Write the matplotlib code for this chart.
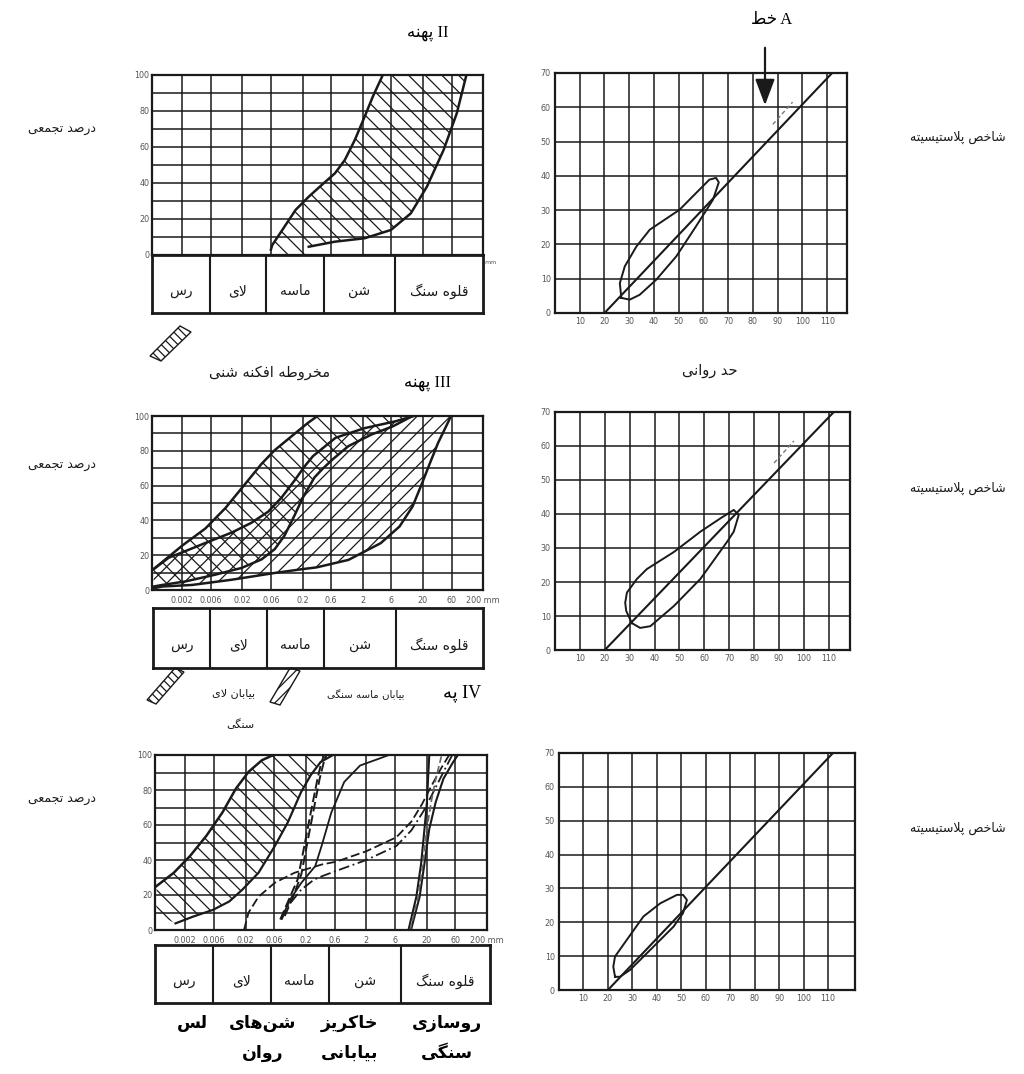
import matplotlib
matplotlib.use('Agg')
import matplotlib.pyplot as plt
from matplotlib.patches import Polygon
from matplotlib.ticker import NullLocator

W, H = 1024, 1074

# ---- grading charts -------------------------------------------------------
size_ticks = [0.002, 0.006, 0.02, 0.06, 0.2, 0.6, 2, 6, 20, 60, 200]
size_labels = ['0.002', '0.006', '0.02', '0.06', '0.2', '0.6', '2', '6', '20', '60', '200 mm']
size_min = 0.00063
pct_grid = [0, 10, 20, 30, 40, 50, 60, 70, 80, 90, 100]
pct_labels = ['0', '', '20', '', '40', '', '60', '', '80', '', '100']

soil_classes = ['رس', 'لای', 'ماسه', 'شن', 'قلوه سنگ']
class_edges = [0, 0.174, 0.345, 0.519, 0.735, 1.0]

# zone II: alluvial fan envelope
z2_fine_d = [0.0596, 0.063, 0.0923, 0.153, 0.254, 0.417, 0.692, 1.01, 1.48, 2.16, 2.95, 4.32]
z2_fine_p = [3, 5.6, 13.9, 25, 32.4, 38.9, 45.4, 52.8, 63.9, 76.9, 88, 100]
z2_coarse_d = [0.254, 0.692, 2.16, 5.89, 12.6, 23.4, 44.2, 73.3, 106]
z2_coarse_p = [4.6, 7.4, 9.3, 13.9, 23.1, 38, 58.3, 78.7, 100]

# zone III: stony silt desert (upper / lower bound)
silt_top_d = [0.00067, 0.002, 0.00484, 0.0104, 0.0221, 0.0417, 0.0692, 0.130, 0.245, 0.355]
silt_top_p = [12, 25.5, 35.3, 47, 60.8, 72.5, 80.4, 88.2, 96, 100]
silt_low_d = [0.00067, 0.00093, 0.00224, 0.00708, 0.0195, 0.0417, 0.0692, 0.101, 0.148,
              0.202, 0.316, 0.43, 0.63, 1.16, 2.82, 6.3, 13.5]
silt_low_p = [2, 2.9, 4.9, 8.8, 12.7, 17.6, 23.5, 31.4, 43, 53, 64.7, 69.6, 75, 82.7, 89.4, 94, 100]
# zone III: stony sand desert (upper / lower bound)
sand_top_d = [0.00067, 0.0012, 0.002, 0.00484, 0.0133, 0.0282, 0.0537, 0.089, 0.148, 0.216,
              0.3, 0.71, 2.14, 7.1, 14.1]
sand_top_p = [12, 18.6, 21.6, 27, 33, 38.6, 45, 53, 63, 71, 77, 87.5, 93, 97, 100]
sand_low_d = [0.00067, 0.00093, 0.00292, 0.0133, 0.0692, 0.2, 0.343, 1.16, 3.98, 8.2, 13.5,
              19.5, 26.3, 35.9, 51.9, 58.9]
sand_low_p = [1, 2, 2.9, 5.9, 9.8, 12, 13, 17.3, 26.9, 36.5, 48, 61.5, 73, 84.6, 96, 100]

# zone IV: loess band
loess_top_d = [0.00067, 0.00129, 0.0024, 0.00447, 0.0083, 0.0138, 0.0224, 0.0372, 0.0575]
loess_top_p = [25, 32.7, 42.3, 53.8, 67.3, 80.8, 90.4, 97, 100]
loess_low_d = [0.00138, 0.00272, 0.00575, 0.0107, 0.0176, 0.0327, 0.061, 0.1, 0.166, 0.24, 0.35, 0.56]
loess_low_p = [3.8, 7.7, 11.5, 16.3, 23, 32.7, 48, 61.5, 78.8, 88.5, 96, 100]
# zone IV: dune sands
dune_a_d = [0.075, 0.106, 0.146, 0.188, 0.24, 0.309, 0.355, 0.398]
dune_a_p = [6, 18, 29, 48, 67, 86, 95, 100]
dune_b_d = [0.089, 0.126, 0.168, 0.211, 0.266, 0.335, 0.389, 0.437]
dune_b_p = [8, 20, 32, 50, 68, 86, 95, 100]
# zone IV: desert fill
fill_solid_d = [0.079, 0.112, 0.168, 0.285, 0.363, 0.525, 0.861, 1.58, 3.31, 4.73]
fill_solid_p = [7, 18, 27, 36.5, 48, 67, 84.6, 94, 98, 100]
fill_dash1_d = [0.0188, 0.0224, 0.0327, 0.061, 0.129, 0.372, 0.63, 2.0, 6.3, 11.2, 16.8, 23.7, 35.5, 47.3]
fill_dash1_p = [0, 10, 19, 27, 32.7, 37.5, 39, 45, 53, 62, 72, 82, 93, 100]
fill_dash2_d = [0.0785, 0.1, 0.166, 0.272, 0.372, 0.794, 2.0, 6.3, 11.2, 17.8, 25.1, 37.6, 53.1]
fill_dash2_p = [5.8, 13.5, 23, 28.8, 30.8, 35, 40, 48, 57, 68, 78, 90, 100]
# zone IV: stony pavement
pave_a_d = [10.0, 13.5, 16.2, 18.4, 20.2, 21.1, 22.1]
pave_a_p = [0, 19, 38, 57.7, 73, 86.5, 100]
pave_b_d = [11.0, 15.3, 18.4, 22.1, 28.2, 38, 55, 66]
pave_b_p = [0, 19, 38, 57.7, 73, 86.5, 96, 100]
pave_c_d = [10.6, 14.5, 17.4, 20.0, 23.7, 28.2, 35.5]
pave_c_p = [0, 19, 38, 57, 73, 86, 100]

# ---- plasticity charts ----------------------------------------------------
ll_ticks = [10, 20, 30, 40, 50, 60, 70, 80, 90, 100, 110]
pi_ticks = [0, 10, 20, 30, 40, 50, 60, 70]
a_line_ll = [20, 112]
a_line_pi = [0, 70]
u_dash_ll = [88, 96]
u_dash_pi = [55, 61.5]

z2_ll = [26.8, 26.2, 28.2, 32.9, 38.3, 50.3, 58.4, 62.4, 65.1, 66.2, 63.8, 57.0, 49.0, 40.9, 34.2, 30.2, 26.8]
z2_pi = [4.4, 8.7, 13.6, 19.4, 24.3, 30.1, 36.0, 38.9, 39.4, 38.1, 33.0, 25.3, 16.5, 9.7, 5.3, 3.9, 4.4]
z3_ll = [30.9, 28.6, 28.2, 28.9, 32.9, 36.9, 47.7, 58.4, 66.4, 71.8, 73.8, 71.8, 69.1, 58.4, 47.7, 38.3, 34.2, 30.9]
z3_pi = [7.9, 11.5, 13.9, 16.9, 20.9, 23.8, 28.8, 34.8, 38.7, 41.2, 39.7, 34.8, 31.8, 20.9, 12.9, 7.0, 6.5, 7.9]
z4_ll = [22.9, 22.2, 22.9, 27.7, 34.5, 41.4, 48.2, 50.7, 52.3, 50.7, 46.8, 40.0, 33.2, 29.0, 24.9, 22.9]
z4_pi = [3.9, 6.9, 9.9, 14.8, 21.7, 25.6, 28.1, 28.1, 26.6, 22.7, 18.7, 13.8, 8.9, 5.9, 3.9, 3.9]

# ---- persian text shaping (no shaping engine in matplotlib) ---------------
FORMS = {
    'ا': ('\uFE8D', '\uFE8E', None, None),
    'ب': ('\uFE8F', '\uFE90', '\uFE91', '\uFE92'),
    'پ': ('\uFB56', '\uFB57', '\uFB58', '\uFB59'),
    'ت': ('\uFE95', '\uFE96', '\uFE97', '\uFE98'),
    'ج': ('\uFE9D', '\uFE9E', '\uFE9F', '\uFEA0'),
    'ح': ('\uFEA1', '\uFEA2', '\uFEA3', '\uFEA4'),
    'خ': ('\uFEA5', '\uFEA6', '\uFEA7', '\uFEA8'),
    'د': ('\uFEA9', '\uFEAA', None, None),
    'ر': ('\uFEAD', '\uFEAE', None, None),
    'ز': ('\uFEAF', '\uFEB0', None, None),
    'س': ('\uFEB1', '\uFEB2', '\uFEB3', '\uFEB4'),
    'ش': ('\uFEB5', '\uFEB6', '\uFEB7', '\uFEB8'),
    'ص': ('\uFEB9', '\uFEBA', '\uFEBB', '\uFEBC'),
    'ط': ('\uFEC1', '\uFEC2', '\uFEC3', '\uFEC4'),
    'ع': ('\uFEC9', '\uFECA', '\uFECB', '\uFECC'),
    'ف': ('\uFED1', '\uFED2', '\uFED3', '\uFED4'),
    'ق': ('\uFED5', '\uFED6', '\uFED7', '\uFED8'),
    'ک': ('\uFB8E', '\uFB8F', '\uFB90', '\uFB91'),
    'گ': ('\uFB92', '\uFB93', '\uFB94', '\uFB95'),
    'ل': ('\uFEDD', '\uFEDE', '\uFEDF', '\uFEE0'),
    'م': ('\uFEE1', '\uFEE2', '\uFEE3', '\uFEE4'),
    'ن': ('\uFEE5', '\uFEE6', '\uFEE7', '\uFEE8'),
    'ه': ('\uFEE9', '\uFEEA', '\uFEEB', '\uFEEC'),
    'و': ('\uFEED', '\uFEEE', None, None),
    'ی': ('\uFBFC', '\uFBFD', '\uFBFE', '\uFBFF'),
}


def fa(text):
    out = []
    prev_joins = False
    i = 0
    n = len(text)
    while i < n:
        c = text[i]
        if c not in FORMS:
            if c != '\u200c':
                out.append(c)
            prev_joins = False
            i += 1
            continue
        if c == 'ل' and i + 1 < n and text[i + 1] == 'ا':
            out.append('\uFEFC' if prev_joins else '\uFEFB')
            prev_joins = False
            i += 2
            continue
        iso, fin, ini, med = FORMS[c]
        nxt = text[i + 1] if i + 1 < n else None
        next_joins = ini is not None and nxt in FORMS
        if prev_joins and next_joins:
            out.append(med)
        elif prev_joins:
            out.append(fin)
        elif next_joins:
            out.append(ini)
        else:
            out.append(iso)
        prev_joins = ini is not None
        i += 1
    return ''.join(reversed(out))


plt.rcParams['font.family'] = ['DejaVu Sans']
plt.rcParams['hatch.linewidth'] = 0.9
INK = '#1a1a1a'
TICK = '#555555'

fig = plt.figure(figsize=(W / 100, H / 100), dpi=100)
fig.patch.set_facecolor('white')


def px_rect(left, top, right, bottom):
    return [left / W, 1 - bottom / H, (right - left) / W, (bottom - top) / H]


def grading_axes(rect, show_sizes):
    ax = fig.add_axes(px_rect(*rect))
    ax.set_xscale('log')
    ax.set_xlim(size_min, 200)
    ax.set_ylim(0, 100)
    ax.set_xticks(size_ticks)
    ax.set_xticklabels(size_labels if show_sizes else [''] * len(size_ticks))
    ax.xaxis.set_minor_locator(NullLocator())
    ax.set_yticks(pct_grid)
    ax.set_yticklabels(pct_labels)
    ax.tick_params(length=0, labelsize=5.8, labelcolor=TICK, pad=2)
    ax.tick_params(axis='x', pad=4)
    ax.grid(True, color=INK, lw=1.1)
    for s in ax.spines.values():
        s.set_linewidth(1.6)
        s.set_color(INK)
    return ax


def class_table(rect):
    ax = fig.add_axes(px_rect(*rect))
    ax.set_xlim(0, 1)
    ax.set_ylim(0, 1)
    ax.set_xticks([])
    ax.set_yticks([])
    for s in ax.spines.values():
        s.set_linewidth(2)
        s.set_color(INK)
    for e in class_edges[1:-1]:
        ax.axvline(e, color=INK, lw=1.5)
    for i, name in enumerate(soil_classes):
        ax.text((class_edges[i] + class_edges[i + 1]) / 2, 0.38, fa(name),
                ha='center', va='center', fontsize=10, color=INK)
    return ax


def plasticity_axes(rect, ll_max):
    ax = fig.add_axes(px_rect(*rect))
    ax.set_xlim(0, ll_max)
    ax.set_ylim(0, 70)
    ax.set_xticks(ll_ticks)
    ax.set_yticks(pi_ticks)
    ax.tick_params(length=0, labelsize=5.8, labelcolor=TICK, pad=3)
    ax.grid(True, color=INK, lw=1.1)
    for s in ax.spines.values():
        s.set_linewidth(1.6)
        s.set_color(INK)
    ax.plot(a_line_ll, a_line_pi, color=INK, lw=1.5)
    return ax


def hatch_band(ax, top_d, top_p, low_d, low_p, hatch):
    xs = list(top_d) + list(low_d)[::-1]
    ys = list(top_p) + list(low_p)[::-1]
    ax.fill(xs, ys, facecolor='none', edgecolor=INK, hatch=hatch, lw=0)


# zone II
g1 = grading_axes((152, 75, 483, 255), False)
hatch_band(g1, [z2_fine_d[0]] + z2_fine_d, [0] + z2_fine_p,
           [z2_coarse_d[0]] + z2_coarse_d, [0] + z2_coarse_p, r'\\')
g1.plot(z2_fine_d, z2_fine_p, color=INK, lw=1.8)
g1.plot(z2_coarse_d, z2_coarse_p, color=INK, lw=1.8)
g1.text(1.005, -0.03, 'mm', transform=g1.transAxes, fontsize=4.5, color=TICK, va='top')
class_table((152, 255, 483, 313))

# zone III
g2 = grading_axes((152, 416, 483, 590), True)
hatch_band(g2, silt_top_d, silt_top_p, silt_low_d, silt_low_p, r'\\')
hatch_band(g2, sand_top_d, sand_top_p, sand_low_d, sand_low_p, '//')
for d, p in [(silt_top_d, silt_top_p), (silt_low_d, silt_low_p),
             (sand_top_d, sand_top_p), (sand_low_d, sand_low_p)]:
    g2.plot(d, p, color=INK, lw=1.8)
class_table((153, 608, 483, 668))

# zone IV
g3 = grading_axes((155, 755, 487, 930), True)
hatch_band(g3, [size_min * 1.05] + loess_top_d, [9] + [loess_top_p[0]] + loess_top_p[1:],
           loess_low_d, loess_low_p, r'\\')
g3.plot([size_min * 1.05] + loess_top_d[1:], loess_top_p, color=INK, lw=1.8)
g3.plot(loess_low_d, loess_low_p, color=INK, lw=1.6)
g3.plot(dune_a_d, dune_a_p, color=INK, lw=1.4, ls=(0, (5, 2)))
g3.plot(dune_b_d, dune_b_p, color=INK, lw=1.4, ls=(0, (5, 2)))
g3.plot(fill_solid_d, fill_solid_p, color=INK, lw=1.3)
g3.plot(fill_dash1_d, fill_dash1_p, color=INK, lw=1.3, ls=(0, (5, 2)))
g3.plot(fill_dash2_d, fill_dash2_p, color=INK, lw=1.3, ls=(0, (6, 2, 1, 2)))
g3.plot(pave_a_d, pave_a_p, color=INK, lw=1.5)
g3.plot(pave_b_d, pave_b_p, color=INK, lw=1.5)
g3.plot(pave_c_d, pave_c_p, color='#666666', lw=1.2, ls=(0, (4, 2)))
class_table((155, 945, 490, 1003))

# plasticity charts
p1 = plasticity_axes((555, 73, 847, 313), 118)
p1.plot(z2_ll, z2_pi, color=INK, lw=1.4)
p1.plot(u_dash_ll, u_dash_pi, color='#777777', lw=1.0, ls=(0, (3, 2)))
p2 = plasticity_axes((555, 412, 850, 650), 118.5)
p2.plot(z3_ll, z3_pi, color=INK, lw=1.4)
p2.plot(u_dash_ll, u_dash_pi, color='#777777', lw=1.0, ls=(0, (3, 2)))
p3 = plasticity_axes((559, 753, 855, 990), 121)
p3.plot(z4_ll, z4_pi, color=INK, lw=1.4)

# labels and legend swatches in pixel space
ov = fig.add_axes([0, 0, 1, 1])
ov.set_xlim(0, W)
ov.set_ylim(H, 0)
ov.axis('off')

serif_fa = ['Liberation Serif', 'DejaVu Sans']
ov.text(428, 33, fa('پهنه') + ' II', family=serif_fa, fontsize=12, ha='center', va='center')
ov.text(427, 383, fa('پهنه') + ' III', family=serif_fa, fontsize=12, ha='center', va='center')
ov.text(462, 693, fa('په') + ' IV', family=serif_fa, fontsize=13, ha='center', va='center')
ov.text(772, 20, fa('خط') + ' A', family=serif_fa, fontsize=12, ha='center', va='center')
ov.annotate('', xy=(765, 108), xytext=(765, 45),
            arrowprops=dict(arrowstyle='-|>,head_length=0.8,head_width=0.3',
                            mutation_scale=20, lw=1.6, color=INK))

for y in (130, 466, 800):
    ov.text(62, y, fa('درصد تجمعی'), fontsize=9, ha='center', va='center', color=INK)
for y in (137, 488, 828):
    ov.text(958, y, fa('شاخص پلاستیسیته'), fontsize=9, ha='center', va='center', color=INK)
ov.text(710, 370, fa('حد روانی'), fontsize=10.5, ha='center', va='center', color=INK)
ov.text(270, 372, fa('مخروطه افکنه شنی'), fontsize=10.5, ha='center', va='center', color=INK)

ov.text(234, 693, fa('بیابان لای'), fontsize=8, ha='center', va='center', color=INK)
ov.text(240, 725, fa('سنگی'), fontsize=8, ha='center', va='center', color=INK)
ov.text(366, 695, fa('بیابان ماسه سنگی'), fontsize=7.4, ha='center', va='center', color=INK)

# legend swatches
for pts, h in [([(150, 356), (180, 326), (191, 332), (161, 361)], r'\\\\'),
               ([(147, 700), (175, 668), (184, 672), (156, 704)], r'\\\\'),
               ([(270, 702), (290, 668), (300, 671), (280, 705)], '///')]:
    ov.add_patch(Polygon(pts, closed=True, facecolor='none', edgecolor=INK,
                         hatch=h, lw=1.0))

bottom_labels = [(192, 'لس', None), (263, 'شن\u200cهای', 'روان'),
                 (350, 'خاکریز', 'بیابانی'), (447, 'روسازی', 'سنگی')]
for x, first, second in bottom_labels:
    ov.text(x, 1023, fa(first), fontsize=12.5, fontweight='bold', ha='center', va='center')
    if second:
        ov.text(x, 1053, fa(second), fontsize=12.5, fontweight='bold', ha='center', va='center')

fig.savefig('out.png', dpi=100, facecolor='white')
